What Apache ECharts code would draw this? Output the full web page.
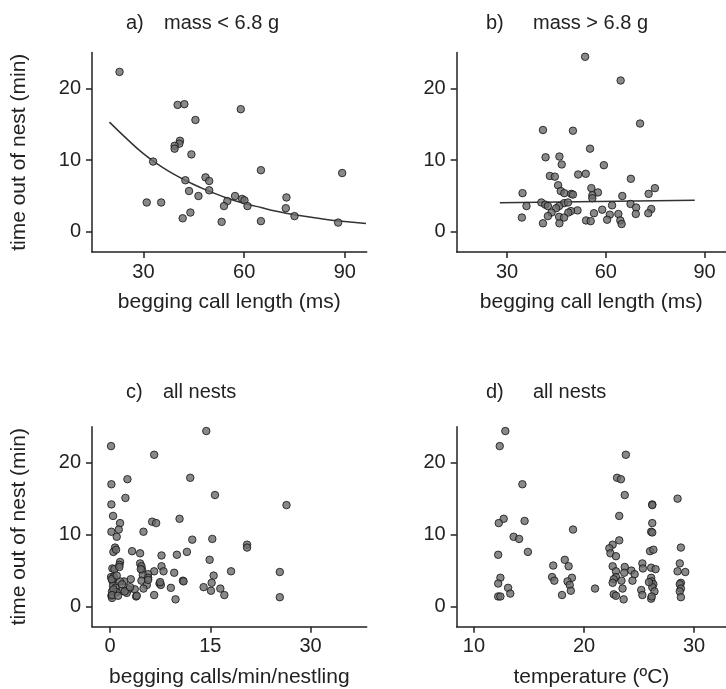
<!DOCTYPE html>
<html>
<head>
<meta charset="utf-8">
<script src="https://cdn.jsdelivr.net/npm/echarts@6/dist/echarts.min.js"></script>
<style>
  html, body { margin: 0; padding: 0; background: #fff; }
  #chart { width: 726px; height: 689px; }
</style>
</head>
<body>
<div id="chart"></div>
<script>
// panel a: mass < 6.8 g  [call length ms, time out min]
var lightPts = [[22.9,22.3],[40.2,17.7],[42.2,17.8],[59.0,17.1],[45.5,15.6],[40.9,12.7],[40.7,12.3],
  [39.3,12.0],[39.3,11.6],[44.3,10.8],[32.9,9.8],[65.0,8.6],[89.2,8.2],[48.5,7.6],[49.6,7.1],[42.5,7.2],
  [43.6,5.7],[49.6,5.8],[46.4,5.0],[57.3,5.0],[59.4,4.6],[60.1,4.4],[55.0,4.3],[31.0,4.1],[35.3,4.1],
  [54.0,3.6],[61.0,3.6],[72.6,4.8],[72.4,3.3],[75.0,2.2],[44.0,2.7],[41.7,1.9],[53.3,1.4],[65.0,1.5],[88.0,1.3]]
// fitted curve
var lightFit = [[19.9,15.3],[25,13.0],[30,10.9],[35,9.2],[40,7.8],[45,6.6],[50,5.6],[55,4.7],[60,4.0],
  [65,3.4],[70,2.85],[75,2.4],[80,2.05],[85,1.7],[90,1.45],[96.3,1.17]]

// panel b: mass > 6.8 g
var heavyPts = [[53.7,24.4],[64.5,21.1],[70.4,15.1],[40.9,14.2],[50.0,14.1],[55.2,11.6],[41.7,10.4],
  [45.9,10.5],[46.6,9.4],[59.4,9.3],[43.0,7.8],[44.5,7.7],[51.6,8.0],[53.9,8.1],[67.6,7.4],[45.5,6.5],
  [55.6,6.1],[74.9,6.1],[46.3,5.7],[47.4,5.4],[57.6,5.5],[34.7,5.4],[49.5,5.3],[50.0,5.2],[55.9,5.1],
  [55.9,4.7],[65.0,5.0],[73.0,5.3],[40.4,4.1],[41.6,3.8],[42.4,3.6],[35.9,3.6],[47.3,4.0],[48.5,4.1],
  [45.8,3.6],[44.9,3.3],[61.9,3.7],[67.5,3.9],[69.2,3.4],[73.8,3.2],[58.9,3.1],[51.4,3.0],[49.4,2.9],
  [48.6,2.7],[43.5,2.7],[42.4,2.2],[56.4,2.6],[61.2,2.4],[63.8,2.5],[69.1,2.5],[72.9,2.6],[34.5,2.0],
  [45.8,2.1],[47.3,2.0],[60.4,1.7],[64.4,1.6],[54.0,1.6],[55.4,1.5],[40.9,1.2],[45.9,1.2],[64.8,1.1]]
var heavyFit = [[27.8,4.05],[87.0,4.42]]

// panel c: begging calls/min/nestling
var ratePts = [[14.4,24.4],[0.15,22.3],[6.6,21.1],[0.2,17.0],[2.6,17.7],[12.0,17.9],[2.3,15.1],[15.7,15.5],
  [26.4,14.1],[0.2,14.2],[0.45,12.6],[1.5,11.6],[1.3,10.7],[0.2,10.4],[1.0,9.7],[5.0,10.4],[6.3,11.8],
  [6.9,11.6],[10.4,12.2],[12.3,9.3],[15.3,9.4],[20.5,8.6],[20.5,8.2],[0.75,8.2],[0.5,7.6],[0.9,7.9],
  [3.3,7.7],[4.5,7.4],[7.7,7.1],[10.0,7.2],[11.5,7.6],[14.9,6.5],[1.5,6.2],[1.4,5.8],[4.5,6.0],[4.7,5.6],
  [7.7,5.6],[0.35,5.3],[0.65,5.2],[4.8,5.1],[6.6,4.9],[8.0,4.9],[9.6,4.7],[18.1,4.9],[25.4,4.8],[5.7,4.5],
  [4.9,4.4],[15.5,4.3],[0.15,4.1],[0.55,4.1],[5.7,4.0],[3.1,3.8],[0.35,3.6],[2.1,3.5],[1.5,3.5],[4.7,3.6],
  [10.9,3.6],[11.0,3.5],[15.2,3.3],[7.4,3.2],[7.6,3.0],[5.5,3.0],[0.45,2.9],[5.0,2.5],[9.1,2.6],[14.0,2.7],
  [16.5,2.5],[2.8,2.4],[1.8,2.2],[0.8,2.6],[0.3,2.1],[15.1,2.2],[3.7,2.4],[2.5,1.9],[17.1,1.6],[3.9,1.4],
  [6.6,1.6],[0.2,1.5],[0.3,1.2],[9.8,1.0],[25.4,1.3],[1.0,2.0],[2.2,2.1],[0.25,3.8],[1.0,4.3],[1.4,5.5],
  [0.5,2.4],[1.8,3.1],[4.6,5.2],[7.5,3.4],[4.0,1.5],[0.3,1.6],[3.0,2.7],[5.7,3.7],[1.2,1.5]]

// panel d: temperature (°C)
var tempPts = [[12.85,24.4],[12.34,22.3],[14.4,17.0],[12.7,12.2],[12.25,11.6],[14.6,11.9],[13.6,9.7],
  [14.1,9.4],[14.9,7.6],[12.2,7.2],[12.4,4.0],[12.2,3.2],[13.1,2.6],[13.3,1.8],[12.2,1.4],[12.4,1.4],
  [19.0,10.7],[17.2,5.7],[18.25,6.5],[18.6,5.6],[17.1,4.1],[17.3,3.6],[18.9,4.0],[18.5,3.5],[18.7,3.0],
  [18.8,2.2],[18.0,1.6],[21.0,2.5],
  [23.8,21.1],[23.0,17.9],[23.35,17.7],[23.7,15.5],[23.2,12.6],[23.2,9.2],[22.6,8.6],[22.3,8.1],[22.4,7.4],
  [22.9,7.0],[22.6,5.6],[23.7,5.5],[22.9,4.9],[23.65,4.7],[24.3,5.0],[24.6,4.5],[22.9,4.1],[22.7,3.8],
  [23.4,3.6],[24.4,3.6],[22.6,3.3],[23.5,2.5],[22.7,1.7],[22.9,1.5],[23.6,1.0],
  [26.2,14.2],[26.2,14.1],[26.2,11.6],[26.1,10.4],[26.2,10.3],[26.0,7.7],[26.3,7.9],[25.3,6.0],[25.35,5.3],
  [26.1,5.4],[26.5,5.2],[26.1,4.0],[26.15,3.5],[26.3,3.1],[26.2,2.7],[26.4,2.1],[25.2,2.3],[25.3,1.6],
  [26.1,1.1],[26.15,1.4],[25.9,3.4],
  [28.5,15.0],[28.8,8.2],[28.7,6.0],[28.5,4.9],[29.2,4.8],[28.8,3.3],[28.7,3.1],[28.8,2.5],[28.7,2.1],[28.8,1.3]]

var yTicks = [0, 10, 20]
var lengthTicks = [30, 60, 90]
var rateTicks = [0, 15, 30]
var tempTicks = [10, 20, 30]

var ink = '#222'
var font = 'Liberation Sans, Arial, Helvetica, sans-serif'

var chart = echarts.init(document.getElementById('chart'), null, { renderer: 'canvas' })

var grids = [
  { left: 92, top: 52.5, width: 274.7, height: 199.5 },
  { left: 456.7, top: 52.5, width: 274.7, height: 199.5 },
  { left: 92, top: 426.7, width: 274.7, height: 200 },
  { left: 456.7, top: 426.7, width: 274.7, height: 200 }
]

function xAx(i, min, max, ticks, name) {
  return {
    type: 'value', gridIndex: i, min: min, max: max,
    name: name, nameLocation: 'middle', nameGap: 40,
    nameTextStyle: { color: ink, fontSize: 21, fontFamily: font },
    axisLine: { show: true, onZero: false, lineStyle: { color: ink, width: 1.5 } },
    axisTick: { show: true, length: 6, customValues: ticks, lineStyle: { color: ink, width: 1.5 } },
    axisLabel: { customValues: ticks, margin: 10, color: ink, fontSize: 20, fontFamily: font },
    splitLine: { show: false }
  }
}

function yAx(i, name) {
  return {
    type: 'value', gridIndex: i, min: -2.8, max: 25,
    name: name, nameLocation: 'middle', nameGap: 62,
    nameTextStyle: { color: ink, fontSize: 21, fontFamily: font },
    axisLine: { show: true, onZero: false, lineStyle: { color: ink, width: 1.5 } },
    axisTick: { show: true, length: 6, customValues: yTicks, lineStyle: { color: ink, width: 1.5 } },
    axisLabel: { customValues: yTicks, margin: 11, color: ink, fontSize: 20, fontFamily: font },
    splitLine: { show: false }
  }
}

function dots(i, data) {
  return {
    type: 'scatter', xAxisIndex: i, yAxisIndex: i, data: data,
    symbolSize: 7.5, silent: true,
    itemStyle: { color: '#6b6b6b', borderColor: '#111', borderWidth: 1 }
  }
}

function fit(i, data) {
  return {
    type: 'line', xAxisIndex: i, yAxisIndex: i, data: data, smooth: true,
    showSymbol: false, silent: true, z: 1,
    lineStyle: { color: '#333', width: 1.5 }
  }
}

function label(x, y, text) {
  return { text: text, left: x, top: y, textStyle: { color: ink, fontSize: 20, fontWeight: 'normal', fontFamily: font } }
}

chart.setOption({
  animation: false,
  backgroundColor: '#fff',
  title: [
    label(121, 8, 'a)'), label(159, 8, 'mass < 6.8 g'),
    label(481, 8, 'b)'), label(528, 8, 'mass > 6.8 g'),
    label(121, 377, 'c)'), label(158, 377, 'all nests'),
    label(481, 377, 'd)'), label(528, 377, 'all nests')
  ],
  grid: grids,
  xAxis: [
    xAx(0, 14.7, 96.5, lengthTicks, 'begging call length (ms)'),
    xAx(1, 14.7, 96.5, lengthTicks, 'begging call length (ms)'),
    xAx(2, -2.7, 38.4, rateTicks, 'begging calls/min/nestling'),
    xAx(3, 8.43, 32.9, tempTicks, 'temperature (ºC)')
  ],
  yAxis: [
    yAx(0, 'time out of nest (min)'),
    yAx(1, ''),
    yAx(2, 'time out of nest (min)'),
    yAx(3, '')
  ],
  series: [
    fit(0, lightFit), dots(0, lightPts),
    fit(1, heavyFit), dots(1, heavyPts),
    dots(2, ratePts),
    dots(3, tempPts)
  ]
})
</script>
</body>
</html>
